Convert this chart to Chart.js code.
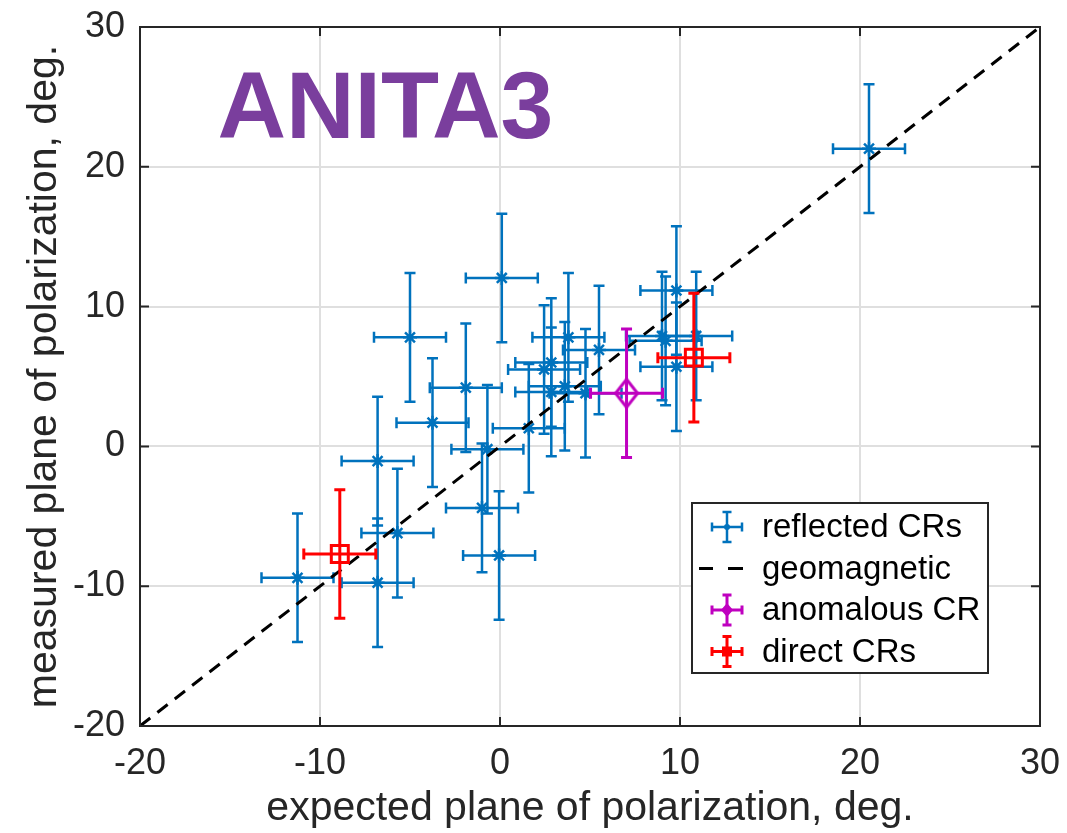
<!DOCTYPE html>
<html>
<head>
<meta charset="utf-8">
<script src="https://cdn.jsdelivr.net/npm/chart.js@4"></script>
<style>
  body { margin: 0; background: #fff; }
  #wrap { width: 1067px; height: 833px; }
</style>
</head>
<body>
<div id="wrap"><canvas id="chart" width="1067" height="833"></canvas></div>
<script>
// reflected cosmic rays (expected, measured) in degrees
const reflX = [0.1, -5.0, -1.9, -3.75, -6.8, -0.7, 1.6, 2.45, 2.85, 2.85, 3.8, 3.6, 4.75, 5.5, 9.8, 9.0, 9.2, 10.9, 9.8, -1.0, -0.05, -5.7, -6.8, -11.25, 20.5];
const reflY = [12.05, 7.8, 4.2, 1.7, -1.05, -0.2, 1.3, 5.5, 6.0, 3.9, 7.8, 4.3, 3.8, 6.9, 11.15, 7.9, 7.55, 7.9, 5.7, -4.4, -7.8, -6.2, -9.75, -9.4, 21.3];
const reflXErr = reflX.map(() => 2.0);
const reflYErr = reflY.map(() => 4.6);

// anomalous event
const anomX = [7.03];
const anomY = [3.8];
const anomXErr = [2.0];
const anomYErr = [4.6];

// direct cosmic rays
const directX = [10.77, -8.9];
const directY = [6.35, -7.7];
const directXErr = [2.0, 2.0];
const directYErr = [4.6, 4.6];

// geomagnetic expectation (y = x)
const geoX = [-20, 30];
const geoY = [-20, 30];

const ticks = [-20, -10, 0, 10, 20, 30];

const BLUE = '#0072BD', MAG = '#BF00BF', RED = '#FF0000', AX = '#262626';
const FONT = '"Liberation Sans", Arial, Helvetica, sans-serif';

const pts = (xs, ys) => xs.map((v, i) => ({ x: v, y: ys[i] }));

// taller-than-wide open diamond, like the matlab 'd' marker
function diamondMarker(color) {
  const c = document.createElement('canvas');
  c.width = 26; c.height = 32;
  const g = c.getContext('2d');
  g.strokeStyle = color;
  g.lineWidth = 3;
  g.beginPath();
  g.moveTo(13, 2); g.lineTo(24, 16); g.lineTo(13, 30); g.lineTo(2, 16);
  g.closePath();
  g.stroke();
  return c;
}

// draw error bars of a dataset under its markers
const errBars = {
  id: 'errBars',
  beforeDatasetDraw(chart, args) {
    const ds = chart.data.datasets[args.index];
    if (!ds.errX) return;
    const { ctx } = chart;
    const sx = chart.scales.x, sy = chart.scales.y;
    const cap = ds.capSize;
    ctx.save();
    ctx.strokeStyle = ds.borderColor;
    ctx.lineWidth = ds.errWidth;
    ds.data.forEach((p, i) => {
      const cx = sx.getPixelForValue(p.x), cy = sy.getPixelForValue(p.y);
      const x0 = sx.getPixelForValue(p.x - ds.errX[i]), x1 = sx.getPixelForValue(p.x + ds.errX[i]);
      const y0 = sy.getPixelForValue(p.y - ds.errY[i]), y1 = sy.getPixelForValue(p.y + ds.errY[i]);
      ctx.beginPath();
      ctx.moveTo(x0, cy); ctx.lineTo(x1, cy);
      ctx.moveTo(x0, cy - cap); ctx.lineTo(x0, cy + cap);
      ctx.moveTo(x1, cy - cap); ctx.lineTo(x1, cy + cap);
      ctx.moveTo(cx, y0); ctx.lineTo(cx, y1);
      ctx.moveTo(cx - cap, y0); ctx.lineTo(cx + cap, y0);
      ctx.moveTo(cx - cap, y1); ctx.lineTo(cx + cap, y1);
      ctx.stroke();
    });
    ctx.restore();
  }
};

// box, inward ticks, title text and legend
const decor = {
  id: 'decor',
  afterDraw(chart) {
    const { ctx, chartArea: a } = chart;
    const sx = chart.scales.x, sy = chart.scales.y;
    ctx.save();
    ctx.strokeStyle = AX;
    ctx.lineWidth = 2;
    ctx.strokeRect(a.left, a.top, a.right - a.left, a.bottom - a.top);
    ctx.beginPath();
    ticks.forEach(t => {
      const px = sx.getPixelForValue(t), py = sy.getPixelForValue(t);
      ctx.moveTo(px, a.bottom); ctx.lineTo(px, a.bottom - 9);
      ctx.moveTo(px, a.top); ctx.lineTo(px, a.top + 9);
      ctx.moveTo(a.left, py); ctx.lineTo(a.left + 9, py);
      ctx.moveTo(a.right, py); ctx.lineTo(a.right - 9, py);
    });
    ctx.stroke();

    // ANITA3 label
    ctx.fillStyle = '#7A3E9D';
    ctx.font = 'bold 95px ' + FONT;
    ctx.textBaseline = 'alphabetic';
    ctx.fillText('ANITA3', sx.getPixelForValue(-15.7), sy.getPixelForValue(22.07));

    // legend
    const lx = 692, ly = 503, lw = 296, lh = 170;
    ctx.fillStyle = '#fff';
    ctx.fillRect(lx, ly, lw, lh);
    ctx.strokeStyle = AX;
    ctx.lineWidth = 2;
    ctx.strokeRect(lx, ly, lw, lh);
    const rows = [
      { label: 'reflected CRs', kind: 'err', color: BLUE, w: 2.5, marker: 'star' },
      { label: 'geomagnetic', kind: 'dash' },
      { label: 'anomalous CR', kind: 'err', color: MAG, w: 3, marker: 'diamond' },
      { label: 'direct CRs', kind: 'err', color: RED, w: 3, marker: 'square' }
    ];
    const ix = 727;
    rows.forEach((r, i) => {
      const cy = 527 + i * 41.5;
      ctx.save();
      if (r.kind === 'dash') {
        ctx.strokeStyle = '#000';
        ctx.lineWidth = 3;
        ctx.beginPath();
        ctx.moveTo(699, cy); ctx.lineTo(713, cy);
        ctx.moveTo(728, cy); ctx.lineTo(743, cy);
        ctx.stroke();
      } else {
        ctx.strokeStyle = r.color;
        ctx.fillStyle = r.color;
        ctx.lineWidth = r.w;
        const h = 15, c = 4.5;
        ctx.beginPath();
        ctx.moveTo(ix - h, cy); ctx.lineTo(ix + h, cy);
        ctx.moveTo(ix, cy - h); ctx.lineTo(ix, cy + h);
        ctx.moveTo(ix - h, cy - c); ctx.lineTo(ix - h, cy + c);
        ctx.moveTo(ix + h, cy - c); ctx.lineTo(ix + h, cy + c);
        ctx.moveTo(ix - c, cy - h); ctx.lineTo(ix + c, cy - h);
        ctx.moveTo(ix - c, cy + h); ctx.lineTo(ix + c, cy + h);
        ctx.stroke();
        ctx.beginPath();
        if (r.marker === 'star') {
          ctx.arc(ix, cy, 3, 0, Math.PI * 2);
        } else if (r.marker === 'diamond') {
          ctx.moveTo(ix, cy - 7); ctx.lineTo(ix + 6, cy); ctx.lineTo(ix, cy + 7); ctx.lineTo(ix - 6, cy);
          ctx.closePath();
        } else {
          ctx.rect(ix - 5, cy - 5, 10, 10);
        }
        ctx.fill();
      }
      ctx.restore();
      ctx.fillStyle = '#000';
      ctx.font = '33px ' + FONT;
      ctx.textBaseline = 'middle';
      ctx.fillText(r.label, 762, cy + 1);
    });
    ctx.restore();
  }
};

const axisCommon = (title, isY) => ({
  type: 'linear',
  min: -20,
  max: 30,
  afterBuildTicks(scale) { scale.ticks = ticks.map(v => ({ value: v })); },
  afterFit(scale) {
    if (isY) scale.width = 140; else scale.height = 107;
    // let the layout padding alone fix the plot box
    scale.paddingLeft = 0; scale.paddingRight = 0;
    scale.paddingTop = 0; scale.paddingBottom = 0;
  },
  grid: { color: '#DFDFDF', lineWidth: 2, drawTicks: false },
  border: { display: false },
  ticks: {
    color: AX,
    font: { family: FONT, size: 36 },
    padding: isY ? 15 : 16,
    maxRotation: 0,
    autoSkip: false
  },
  title: {
    display: true,
    text: title,
    color: AX,
    font: { family: FONT, size: 41 },
    padding: isY ? { top: 20 } : { bottom: 0 }
  }
});

new Chart(document.getElementById('chart'), {
  type: 'scatter',
  data: {
    datasets: [
      {
        label: 'direct CRs',
        data: pts(directX, directY),
        errX: directXErr, errY: directYErr, errWidth: 3, capSize: 5.5,
        borderColor: RED, backgroundColor: 'rgba(0,0,0,0)',
        pointStyle: 'rect', pointRadius: 12, borderWidth: 3,
        order: 1
      },
      {
        label: 'anomalous CR',
        data: pts(anomX, anomY),
        errX: anomXErr, errY: anomYErr, errWidth: 3, capSize: 5.5,
        borderColor: MAG, backgroundColor: 'rgba(0,0,0,0)',
        pointStyle: diamondMarker(MAG), pointRadius: 12, borderWidth: 3,
        order: 2
      },
      {
        type: 'line',
        label: 'geomagnetic',
        data: pts(geoX, geoY),
        borderColor: '#000', borderWidth: 3, borderDash: [13, 9],
        pointRadius: 0, fill: false,
        order: 3
      },
      {
        label: 'reflected CRs',
        data: pts(reflX, reflY),
        errX: reflXErr, errY: reflYErr, errWidth: 2.5, capSize: 5.5,
        borderColor: BLUE, backgroundColor: BLUE,
        pointStyle: 'star', pointRadius: 7, borderWidth: 2.5,
        order: 4
      }
    ]
  },
  options: {
    responsive: false,
    animation: false,
    layout: { padding: { top: 27, right: 27, left: 0, bottom: 0 } },
    plugins: {
      legend: { display: false },
      tooltip: { enabled: false }
    },
    scales: {
      x: axisCommon('expected plane of polarization, deg.', false),
      y: axisCommon('measured plane of polarization, deg.', true)
    }
  },
  plugins: [errBars, decor]
});
</script>
</body>
</html>
